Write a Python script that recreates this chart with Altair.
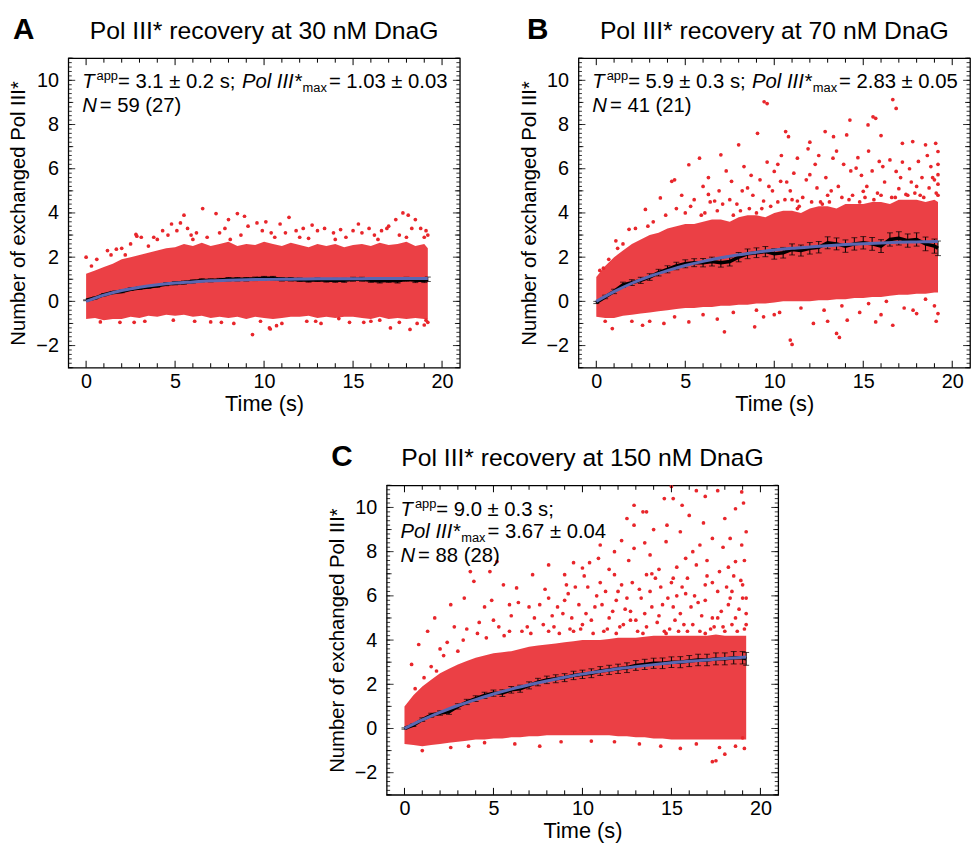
import altair as alt
import pandas as pd

FONT = "Liberation Sans"
RED = "#e8262b"
BLUE = "#5a67b2"
W, H = 396, 313

# ---------------- axis values ----------------
x_major = [0, 5, 10, 15, 20]
x_minor = [1, 2, 3, 4, 6, 7, 8, 9, 11, 12, 13, 14, 16, 17, 18, 19]
y_major = [-2, 0, 2, 4, 6, 8, 10]
y_mid = [-3, -1, 1, 3, 5, 7, 9, 11]
y_minor = [round(-3 + 0.2 * i, 1) for i in range(71)]

# ---------------- time grids ----------------
band_t = [0, 1, 2, 3, 4, 5, 6, 7, 8, 9, 10, 11, 12, 13, 14, 15, 16, 17, 18, 19, 19.2]
mean_t = [0, 0.5, 1, 1.5, 2, 2.5, 3, 3.5, 4, 4.5, 5, 5.5, 6, 6.5, 7, 7.5, 8, 8.5, 9, 9.5,
          10, 10.5, 11, 11.5, 12, 12.5, 13, 13.5, 14, 14.5, 15, 15.5, 16, 16.5, 17, 17.5,
          18, 18.5, 19, 19.2]

# ---------------- Panel A: 30 nM ----------------
A_lo = [-0.8, -0.75, -0.85, -0.8, -0.8, -0.7, -0.75, -0.65, -0.7, -0.6, -0.65, -0.6, -0.7, -0.65,
        -0.75, -0.7, -0.75, -0.7, -0.8, -0.7, -0.75, -0.8, -0.75, -0.7, -0.7, -0.65, -0.75, -0.7,
        -0.75, -0.7, -0.7, -0.75, -0.8, -0.7, -0.8, -0.75, -0.8, -0.75, -0.8, -0.8]
A_hi = [1.25, 1.4, 1.55, 1.7, 1.9, 2.0, 2.1, 2.2, 2.3, 2.4, 2.45, 2.6, 2.5, 2.65, 2.5, 2.6, 2.7,
        2.5, 2.6, 2.55, 2.7, 2.6, 2.5, 2.65, 2.55, 2.45, 2.6, 2.5, 2.6, 2.45, 2.55, 2.6, 2.5,
        2.65, 2.55, 2.6, 2.7, 2.5, 2.6, 2.4]
A_points = [(0.0, 2.0), (2.8, 3.03), (2.85, 2.95), (4.8, 3.5), (5.3, 3.55), (5.5, 3.9),
            (6.55, 4.2), (7.3, 3.97), (8.0, 3.7), (8.5, 3.97), (8.9, 3.85), (9.35, -1.5),
            (10.3, -1.2), (10.35, -1.25), (10.9, 3.5), (11.4, 3.8), (12.7, 3.45), (15.3, 3.5),
            (15.9, 3.3), (16.9, 3.3), (17.4, 3.7), (17.8, 4.0), (18.1, 3.9), (18.5, 3.7),
            (17.1, -1.2), (18.2, -1.27), (19.1, -0.85), (19.0, -1.07), (13.2, -1.0), (7.0, -0.93),
            (0.8, -0.93), (14.2, -0.78), (16.5, -0.85), (4.3, 3.2), (9.6, 3.55), (13.4, 3.3),
            (14.3, 3.25), (11.8, 3.2), (5.9, 3.0), (1.7, 2.36), (2.2, 2.1), (3.5, 2.5), (19.1, 3.2),
            (6.2, 3.1), (7.8, 3.3), (9.1, 3.4), (10.1, 3.6), (12.2, 3.3), (13.9, 3.1), (15.0, 3.2),
            (16.2, 3.0), (17.0, 3.4), (18.8, 3.3), (3.1, 2.9), (4.0, 2.8), (5.1, 3.2), (2.5, 2.6),
            (1.2, 2.3), (8.3, -1.0), (11.0, -1.0), (12.4, -0.9), (15.6, -0.95), (18.6, -1.0),
            (6.1, -0.9), (3.3, -0.9), (1.9, -0.95), (10.7, -1.1), (0.3, 1.6), (0.6, 1.9),
            (1.4, 2.1), (2.0, 2.4), (3.8, 2.9), (4.6, 3.0), (5.7, 3.3), (6.8, 2.9), (7.5, 3.1),
            (8.7, 3.0), (9.9, 3.2), (10.6, 2.9), (11.2, 3.1), (12.0, 2.9), (13.0, 3.2),
            (14.6, 2.9), (15.5, 3.1), (16.6, 3.2), (17.6, 3.0), (18.3, 3.3), (19.0, 2.9),
            (2.7, -0.95), (4.9, -0.85), (7.6, -0.95), (9.8, -0.9), (12.9, -0.9), (14.8, -0.95),
            (16.0, -0.9), (17.6, -0.95), (19.2, -0.95), (6.0, 2.8), (8.1, 2.8), (10.4, 3.1),
            (12.5, 2.85), (14.0, 2.8), (16.4, 2.8), (18.0, 2.9), (19.2, 3.0)]
A_mean = [0.05, 0.15, 0.3, 0.4, 0.45, 0.55, 0.6, 0.65, 0.7, 0.78, 0.82, 0.85, 0.9, 0.95, 0.95,
          0.97, 1.0, 1.0, 1.0, 1.02, 1.05, 1.05, 1.0, 1.0, 0.98, 0.95, 0.98, 0.95, 0.95, 0.95,
          1.0, 1.0, 0.95, 0.92, 0.95, 0.92, 1.0, 0.95, 0.95, 1.0]
A_err = [0.02, 0.04, 0.05, 0.05, 0.06, 0.06, 0.06, 0.06, 0.06, 0.07, 0.07, 0.07, 0.07, 0.07,
         0.07, 0.07, 0.08, 0.08, 0.08, 0.08, 0.08, 0.08, 0.08, 0.08, 0.08, 0.08, 0.08, 0.08,
         0.09, 0.09, 0.09, 0.09, 0.09, 0.09, 0.09, 0.09, 0.09, 0.1, 0.1, 0.1]
A_fit = [0, 0.28, 0.49, 0.64, 0.75, 0.83, 0.88, 0.93, 0.96, 0.98, 0.99, 1.0, 1.01, 1.02, 1.02,
         1.02, 1.03, 1.03, 1.03, 1.03, 1.03]

# ---------------- Panel B: 70 nM ----------------
B_lo = [-0.7, -0.75, -0.75, -0.65, -0.6, -0.55, -0.5, -0.45, -0.4, -0.35, -0.3, -0.3, -0.25,
        -0.25, -0.2, -0.2, -0.15, -0.15, -0.1, -0.1, -0.05, 0.0, 0.0, 0.0, 0.0, 0.05, 0.05, 0.1,
        0.1, 0.15, 0.15, 0.2, 0.2, 0.25, 0.3, 0.3, 0.35, 0.35, 0.4, 0.4]
B_hi = [1.1, 1.6, 2.0, 2.3, 2.6, 2.8, 3.0, 3.1, 3.3, 3.4, 3.5, 3.5, 3.6, 3.7, 3.7, 3.6, 3.8, 3.9,
        3.9, 3.8, 4.0, 4.1, 4.1, 4.0, 4.2, 4.3, 4.3, 4.2, 4.4, 4.4, 4.4, 4.5, 4.5, 4.4, 4.6, 4.6,
        4.6, 4.5, 4.6, 4.5]
B_points = [(9.43, 9.03), (9.6, 8.95), (16.66, 9.13), (16.85, 8.73), (15.55, 8.35), (15.7, 8.28),
            (15.27, 7.98), (14.25, 8.2), (10.64, 7.68), (10.8, 7.45), (9.06, 7.6), (8.0, 7.08),
            (7.0, 6.63), (5.8, 6.48), (5.2, 6.18), (4.24, 5.43), (4.4, 5.5), (3.6, 4.68),
            (2.76, 4.16), (1.84, 3.26), (1.1, 2.74), (12.86, 7.68), (13.33, 7.45), (14.07, 7.53),
            (17.78, 7.23), (17.2, 7.15), (18.5, 7.08), (19.07, 7.15), (19.2, 6.78), (11.3, 6.48),
            (12.0, 5.73), (13.3, 6.48), (14.6, 6.03), (15.9, 6.33), (16.85, 5.88), (18.1, 6.33),
            (10.0, 5.88), (10.36, 5.43), (8.5, 5.13), (7.6, 5.43), (6.3, 4.84), (6.65, 4.54),
            (12.4, 5.13), (15.0, 4.98), (19.2, 5.73), (17.4, 4.84), (11.3, 4.54), (9.4, 4.54),
            (18.7, 5.13), (10.9, -1.75), (11.0, -1.95), (13.5, -1.45), (13.66, -1.63),
            (7.2, -1.38), (16.66, -1.08), (15.7, -0.93), (0.9, -1.23), (2.6, -1.08), (3.8, -1.0),
            (5.2, -0.93), (8.9, -1.15), (12.2, -1.0), (14.1, -0.85), (18.0, -0.55), (19.2, -0.55),
            (9.4, -0.7), (4.5, 4.2), (5.5, 4.6), (6.0, 5.2), (6.8, 4.1), (7.3, 5.9), (7.9, 4.4),
            (8.3, 6.1), (8.8, 4.8), (9.2, 5.5), (9.8, 4.3), (10.4, 6.6), (10.9, 5.0), (11.6, 4.7),
            (11.9, 6.9), (12.6, 4.5), (12.9, 5.6), (13.6, 5.2), (13.9, 6.2), (14.4, 4.8),
            (14.9, 5.7), (15.3, 6.8), (15.8, 4.9), (16.2, 5.4), (16.5, 6.4), (17.0, 5.1),
            (17.6, 6.0), (17.9, 4.9), (18.3, 5.6), (18.8, 6.1), (19.1, 4.9), (19.2, 6.2),
            (13.0, 4.8), (11.0, 4.6), (9.9, 5.0), (8.6, 4.2), (6.4, 4.5), (5.0, 4.0), (3.2, 3.6),
            (2.2, 3.3), (1.5, 2.6), (0.4, 1.5), (0.7, 1.9), (6.0, -0.6), (7.7, -0.5), (9.0, -0.4),
            (10.3, -0.5), (11.5, -0.3), (12.8, -0.4), (13.8, -0.2), (14.8, -0.5), (15.3, -0.1),
            (16.3, 0.0), (17.3, -0.3), (18.5, 0.1), (19.0, -0.2), (4.4, -0.7), (2.0, -0.9),
            (0.5, -0.9), (4.8, 4.8), (5.9, 3.9), (6.3, 5.6), (7.1, 4.4), (7.7, 3.9), (8.2, 5.0),
            (9.0, 4.0), (9.6, 6.3), (10.2, 4.5), (10.7, 5.4), (11.3, 4.2), (11.8, 5.5),
            (12.3, 6.2), (12.7, 4.4), (13.2, 5.0), (13.5, 6.8), (14.2, 4.6), (14.7, 6.5),
            (15.1, 4.7), (15.5, 5.9), (16.0, 4.8), (16.8, 4.7), (17.2, 6.3), (17.7, 5.4),
            (18.2, 4.8), (18.6, 6.6), (19.0, 5.5), (19.2, 4.8), (3.9, 3.9), (2.9, 3.4), (0.2, 1.4),
            (1.2, 2.4), (5.3, 4.3), (6.1, 4.0), (6.9, 5.0), (7.5, 4.6), (8.1, 4.1), (8.7, 5.7),
            (9.3, 4.2), (9.7, 5.2), (10.2, 6.2), (10.6, 4.6), (11.1, 5.8), (11.4, 4.3),
            (12.1, 4.5), (12.5, 6.6), (13.1, 4.5), (13.8, 4.7), (14.3, 5.9), (14.8, 4.5),
            (15.2, 5.2), (15.6, 4.6), (16.1, 6.1), (16.6, 4.7), (17.1, 5.6), (17.5, 4.8),
            (18.0, 5.2), (18.4, 4.7), (18.9, 5.6), (19.2, 5.3), (12.0, 7.2), (16.0, 7.5),
            (3.0, -0.9), (6.8, -0.8), (10.0, -0.6), (13.0, -0.9), (16.0, -0.6), (17.8, -0.4),
            (19.1, -0.9)]
B_mean = [-0.05, 0.2, 0.45, 0.75, 0.85, 0.95, 1.1, 1.3, 1.45, 1.6, 1.7, 1.75, 1.75, 1.8, 1.75,
          1.8, 2.0, 2.15, 2.2, 2.25, 2.15, 2.2, 2.35, 2.3, 2.4, 2.45, 2.65, 2.6, 2.5, 2.6, 2.65,
          2.6, 2.5, 2.8, 2.85, 2.75, 2.8, 2.6, 2.5, 2.4]
B_err = [0.05, 0.08, 0.1, 0.12, 0.13, 0.14, 0.15, 0.15, 0.16, 0.17, 0.18, 0.18, 0.19, 0.2, 0.2,
         0.2, 0.21, 0.22, 0.22, 0.23, 0.24, 0.24, 0.25, 0.25, 0.26, 0.26, 0.27, 0.27, 0.28, 0.28,
         0.28, 0.29, 0.29, 0.3, 0.3, 0.3, 0.3, 0.31, 0.32, 0.33]
B_fit = [0, 0.44, 0.82, 1.13, 1.39, 1.62, 1.81, 1.97, 2.11, 2.22, 2.32, 2.4, 2.46, 2.52, 2.57,
         2.61, 2.64, 2.67, 2.69, 2.71, 2.72]

# ---------------- Panel C: 150 nM ----------------
C_lo = [-0.7, -0.75, -0.8, -0.75, -0.7, -0.65, -0.6, -0.55, -0.5, -0.5, -0.45, -0.45, -0.4, -0.4,
        -0.35, -0.35, -0.3, -0.3, -0.3, -0.3, -0.3, -0.3, -0.3, -0.3, -0.35, -0.35, -0.4, -0.4,
        -0.45, -0.45, -0.5, -0.5, -0.5, -0.5, -0.5, -0.5, -0.5, -0.5, -0.5, -0.5]
C_hi = [1.0, 1.5, 1.9, 2.2, 2.5, 2.7, 2.9, 3.05, 3.2, 3.3, 3.4, 3.45, 3.5, 3.6, 3.7, 3.75, 3.8,
        3.85, 3.9, 3.95, 4.0, 4.0, 4.0, 4.05, 4.1, 4.1, 4.1, 4.15, 4.2, 4.2, 4.2, 4.2, 4.2, 4.2,
        4.2, 4.25, 4.2, 4.2, 4.2, 4.2]
C_points = [(15.0, 10.95), (14.6, 10.4), (15.1, 10.4), (12.9, 10.1), (13.4, 9.8), (13.6, 9.8),
            (14.75, 9.2), (12.5, 9.5), (12.9, 9.2), (15.6, 10.1), (16.0, 9.64), (16.4, 10.76),
            (16.9, 10.5), (17.6, 10.76), (18.0, 9.5), (18.6, 9.94), (18.95, 10.7), (19.05, 10.2),
            (18.95, 8.3), (18.3, 8.6), (17.3, 8.6), (16.6, 8.3), (15.5, 8.9), (14.7, 8.45),
            (13.8, 7.85), (12.9, 8.15), (11.8, 8.0), (10.9, 7.7), (10.0, 7.26), (9.0, 6.96),
            (8.1, 7.4), (7.2, 6.96), (6.3, 6.36), (5.56, 6.5), (4.8, 7.1), (5.2, 7.55), (3.7, 7.1),
            (3.9, 6.66), (3.36, 5.9), (2.6, 5.6), (1.7, 5.0), (1.3, 4.4), (0.8, 3.8), (0.4, 2.9),
            (4.5, 5.5), (5.9, 5.6), (7.0, 5.5), (8.1, 5.9), (9.2, 6.1), (10.3, 6.4), (11.1, 5.6),
            (12.2, 6.5), (13.3, 5.9), (14.4, 6.4), (15.1, 6.8), (15.8, 6.1), (16.9, 6.5),
            (17.7, 7.1), (18.4, 6.2), (19.0, 6.5), (13.6, 6.96), (11.8, 6.96), (16.4, 7.4),
            (18.6, 7.55), (17.3, 5.0), (15.5, 5.2), (12.7, 4.9), (10.0, 4.7), (7.8, 4.7),
            (5.9, 4.4), (4.1, 4.3), (17.5, -1.46), (17.3, -1.5), (18.0, -1.16), (17.7, -0.86),
            (7.6, -0.8), (1.0, -1.0), (10.5, -0.57), (14.4, -0.8), (19.0, -0.42), (2.6, -0.86),
            (4.5, -0.64), (8.4, 4.6), (8.9, 5.2), (9.5, 4.4), (9.8, 5.6), (10.5, 4.9), (10.8, 6.0),
            (11.4, 4.5), (11.7, 5.3), (12.3, 4.7), (12.5, 5.9), (13.1, 4.4), (13.5, 5.2),
            (13.8, 6.2), (14.2, 4.8), (14.5, 5.6), (14.9, 4.5), (15.3, 6.0), (15.7, 4.7),
            (16.1, 5.5), (16.6, 4.4), (16.9, 5.8), (17.4, 4.6), (17.8, 5.3), (18.1, 6.4),
            (18.4, 4.7), (18.8, 5.4), (19.1, 4.5), (19.2, 5.9), (15.0, 6.6), (12.0, 6.2),
            (9.0, 5.8), (7.3, 5.0), (6.6, 4.4), (5.3, 4.6), (4.6, 4.1), (3.3, 4.0), (2.2, 3.3),
            (1.5, 2.8), (0.6, 1.8), (11.8, -0.6), (13.2, -0.7), (15.5, -0.9), (16.4, -0.7),
            (18.6, -0.8), (19.1, -0.9), (6.2, -0.7), (3.6, -0.8), (8.8, -0.6), (8.1, 4.4),
            (8.6, 5.5), (9.3, 4.5), (9.6, 6.4), (10.2, 5.2), (10.6, 4.3), (11.0, 6.6), (11.5, 5.0),
            (11.9, 4.3), (12.4, 5.4), (12.8, 6.6), (13.0, 4.9), (13.4, 4.3), (13.9, 5.5),
            (14.1, 6.8), (14.6, 4.4), (14.8, 5.9), (15.2, 4.9), (15.6, 6.4), (15.9, 4.4),
            (16.3, 6.0), (16.7, 5.1), (17.0, 6.9), (17.2, 4.5), (17.6, 6.2), (17.9, 4.6),
            (18.2, 5.6), (18.5, 6.9), (18.7, 4.4), (19.0, 5.9), (19.2, 4.7), (6.0, 5.1),
            (6.9, 4.6), (7.6, 5.6), (5.0, 4.9), (3.0, 3.5), (2.4, 3.9), (1.1, 2.3), (10.4, 7.5),
            (12.6, 7.6), (14.3, 7.2), (16.2, 8.0), (17.9, 8.2), (19.1, 7.6), (11.5, 7.2),
            (13.5, 8.4), (15.8, 7.7), (17.0, 7.6), (8.3, 5.1), (8.7, 4.3), (9.1, 6.5), (9.4, 5.0),
            (9.9, 4.5), (10.1, 6.9), (10.7, 5.5), (11.2, 4.4), (11.3, 6.2), (11.9, 5.8),
            (12.1, 4.6), (12.7, 5.3), (13.2, 6.3), (13.6, 4.6), (13.9, 7.0), (14.3, 5.1),
            (14.7, 4.3), (15.1, 5.5), (15.4, 4.4), (15.9, 6.8), (16.2, 4.7), (16.5, 5.7),
            (16.9, 4.3), (17.3, 6.6), (17.6, 5.0), (18.0, 4.4), (18.3, 5.9), (18.6, 5.0),
            (18.9, 6.7), (19.2, 5.2), (7.9, 6.3), (7.1, 4.3), (6.4, 5.7), (5.6, 4.2), (4.9, 5.8),
            (4.2, 4.8), (3.5, 4.5), (2.8, 4.6), (2.0, 3.6), (1.8, 2.6), (12.2, 8.5), (14.0, 9.0),
            (16.8, 9.3), (18.2, 7.3), (19.2, 8.9), (11.0, 8.3), (9.5, 7.5), (15.3, 7.3)]
C_mean = [0, 0.15, 0.4, 0.6, 0.7, 0.75, 1.0, 1.2, 1.35, 1.5, 1.6, 1.6, 1.75, 1.8, 1.95, 2.1, 2.2,
          2.25, 2.3, 2.4, 2.45, 2.5, 2.6, 2.65, 2.7, 2.75, 2.85, 2.9, 2.95, 2.95, 3.0, 3.0, 3.05,
          3.1, 3.1, 3.15, 3.15, 3.2, 3.2, 3.15]
C_err = [0.03, 0.06, 0.08, 0.09, 0.1, 0.11, 0.12, 0.12, 0.13, 0.14, 0.14, 0.15, 0.15, 0.16,
         0.16, 0.17, 0.17, 0.18, 0.18, 0.19, 0.19, 0.2, 0.2, 0.21, 0.21, 0.22, 0.22, 0.23, 0.23,
         0.24, 0.24, 0.25, 0.25, 0.26, 0.26, 0.27, 0.27, 0.28, 0.28, 0.29]
C_fit = [0, 0.39, 0.73, 1.04, 1.31, 1.56, 1.78, 1.98, 2.15, 2.32, 2.46, 2.58, 2.7, 2.8, 2.89,
         2.97, 3.04, 3.1, 3.17, 3.22, 3.23]

# ---------------- helpers ----------------
CW = {' ': 278, '.': 278, '=': 584, '±': 584, ';': 278, '(': 333, ')': 333, '*': 389,
      'T': 611, 'P': 667, 'I': 278, 'N': 722, 'o': 556, 'l': 222, 's': 500, 'a': 556,
      'p': 556, 'm': 833, 'x': 500}


def tw(s, size):
    return sum(CW.get(c, 556) for c in s) * size / 1000.0


def text_piece(txt, x, y, size, italic=False, bold=False, align="left"):
    return alt.Chart(pd.DataFrame({"s": [txt]})).mark_text(
        font=FONT, fontSize=size, fontStyle="italic" if italic else "normal",
        fontWeight="bold" if bold else "normal", align=align, baseline="middle",
        color="black"
    ).encode(text="s:N", x=alt.value(x), y=alt.value(y))


def rich_line(pieces, x0, y0):
    out = []
    x = x0
    for txt, size, dy, italic, gap in pieces:
        out.append(text_piece(txt, x, y0 + dy, size, italic))
        x += tw(txt, size) + gap
    return out


FS = 20.5
SUP = 13


def tline(val):
    return [("T", FS, 0, True, 2), ("app", SUP, -6, False, 0), ("= " + val + ";", FS, 0, False, 0)]


def pline(val):
    return [("Pol III*", FS, 0, True, 1), ("max", SUP, 6, False, 2), (" = " + val, FS, 0, False, 0)]


def nline(val):
    return [("N", FS, 0, True, 3), ("= " + val, FS, 0, False, 0)]


def panel(letter, title, lo, hi, pts, mean, err, fit, lines, letter_dx, title_dy):
    xs = alt.Scale(domain=[-1, 21], nice=False, zero=False)
    ys = alt.Scale(domain=[-3, 11], nice=False, zero=False)
    xaxis = alt.Axis(values=x_major, ticks=False, domain=False, grid=False, labelFont=FONT,
                     labelFontSize=20, labelColor="black", labelPadding=4, labelFlush=False,
                     title="Time (s)", titleFont=FONT, titleFontSize=22, titleFontWeight="normal",
                     titleColor="black", titlePadding=2)
    yaxis = alt.Axis(values=y_major, ticks=False, domain=False, grid=False, labelFont=FONT,
                     labelFontSize=20, labelColor="black", labelPadding=10, labelFlush=False,
                     title="Number of exchanged Pol III*", titleFont=FONT, titleFontSize=20.5,
                     titleFontWeight="normal", titleColor="black", titlePadding=7)

    def X(f):
        return alt.X(f, type="quantitative", scale=xs, axis=xaxis)

    def Y(f):
        return alt.Y(f, type="quantitative", scale=ys, axis=yaxis)

    band = pd.DataFrame({"t": mean_t, "lo": lo, "hi": hi})
    pdf = pd.DataFrame({"t": [p[0] for p in pts], "v": [p[1] for p in pts]})
    mdf = pd.DataFrame({"t": mean_t, "m": mean,
                        "lo": [m - e for m, e in zip(mean, err)],
                        "hi": [m + e for m, e in zip(mean, err)]})
    fdf = pd.DataFrame({"t": band_t, "f": fit})

    layers = [
        alt.Chart(band).mark_area(color=RED, opacity=0.88, clip=True).encode(
            x=X("t"), y=Y("lo"), y2=alt.Y2("hi")),
        alt.Chart(pdf).mark_circle(color=RED, size=14, opacity=1, clip=True).encode(
            x=X("t"), y=Y("v")),
        alt.Chart(mdf).mark_rule(color="black", strokeWidth=1).encode(
            x=X("t"), y=Y("lo"), y2=alt.Y2("hi")),
        alt.Chart(mdf).mark_tick(color="black", orient="horizontal", size=6, thickness=1).encode(
            x=X("t"), y=Y("hi")),
        alt.Chart(mdf).mark_tick(color="black", orient="horizontal", size=6, thickness=1).encode(
            x=X("t"), y=Y("lo")),
        alt.Chart(mdf).mark_line(color="black", strokeWidth=3.5).encode(x=X("t"), y=Y("m")),
        alt.Chart(fdf).mark_line(color=BLUE, strokeWidth=3, interpolate="monotone").encode(
            x=X("t"), y=Y("f")),
    ]

    # inward ticks on all four sides
    for vals, ln in [(x_major, 7), (x_minor, 4.5)]:
        d = pd.DataFrame({"v": vals})
        layers.append(alt.Chart(d).mark_rule(color="black", strokeWidth=1).encode(
            x=X("v"), y=alt.value(H), y2=alt.value(H - ln)))
        layers.append(alt.Chart(d).mark_rule(color="black", strokeWidth=1).encode(
            x=X("v"), y=alt.value(0), y2=alt.value(ln)))
    for vals, ln in [(y_major, 7), (y_mid, 5), (y_minor, 3.5)]:
        d = pd.DataFrame({"v": vals})
        layers.append(alt.Chart(d).mark_rule(color="black", strokeWidth=0.8).encode(
            y=Y("v"), x=alt.value(0), x2=alt.value(ln)))
        layers.append(alt.Chart(d).mark_rule(color="black", strokeWidth=0.8).encode(
            y=Y("v"), x=alt.value(W), x2=alt.value(W - ln)))

    # titles and letters
    layers.append(text_piece(title, W / 2, title_dy, 25, align="center"))
    layers.append(text_piece(letter, letter_dx, title_dy - 1, 30, bold=True))

    # annotation
    for pieces, yy in lines:
        layers += rich_line(pieces, 14, yy)

    return alt.layer(*layers).properties(width=W, height=H)


A = panel("A", "Pol III* recovery at 30 nM DnaG", A_lo, A_hi, A_points, A_mean, A_err, A_fit,
          [(tline("3.1 ± 0.2 s") + [(" ", FS, 0, False, 0)] + pline("1.03 ± 0.03"), 24),
           (nline("59 (27)"), 48)], -56, -27)
B = panel("B", "Pol III* recovery at 70 nM DnaG", B_lo, B_hi, B_points, B_mean, B_err, B_fit,
          [(tline("5.9 ± 0.3 s") + [(" ", FS, 0, False, 0)] + pline("2.83 ± 0.05"), 24),
           (nline("41 (21)"), 48)], -52, -27)
C = panel("C", "Pol III* recovery at 150 nM DnaG", C_lo, C_hi, C_points, C_mean, C_err, C_fit,
          [(tline("9.0 ± 0.3 s"), 25), (pline("3.67 ± 0.04"), 47), (nline("88 (28)"), 72)],
          -56, -28)

spacer = alt.Chart(pd.DataFrame({"v": [0]})).mark_point(opacity=0).encode(
    x=alt.X("v:Q", axis=None), y=alt.Y("v:Q", axis=None)
).properties(width=260, height=10, view=alt.ViewBackground(stroke="transparent"))

top = alt.hconcat(A, B, spacing=57)
bottom = alt.hconcat(spacer, C, spacing=0)

chart = alt.vconcat(top, bottom, spacing=26).properties(
    padding={"left": 0, "top": 2, "right": 0, "bottom": 0}
).configure_view(stroke="black", strokeWidth=1.3)

chart.save("out.html", embed_options={"renderer": "svg", "actions": False})
